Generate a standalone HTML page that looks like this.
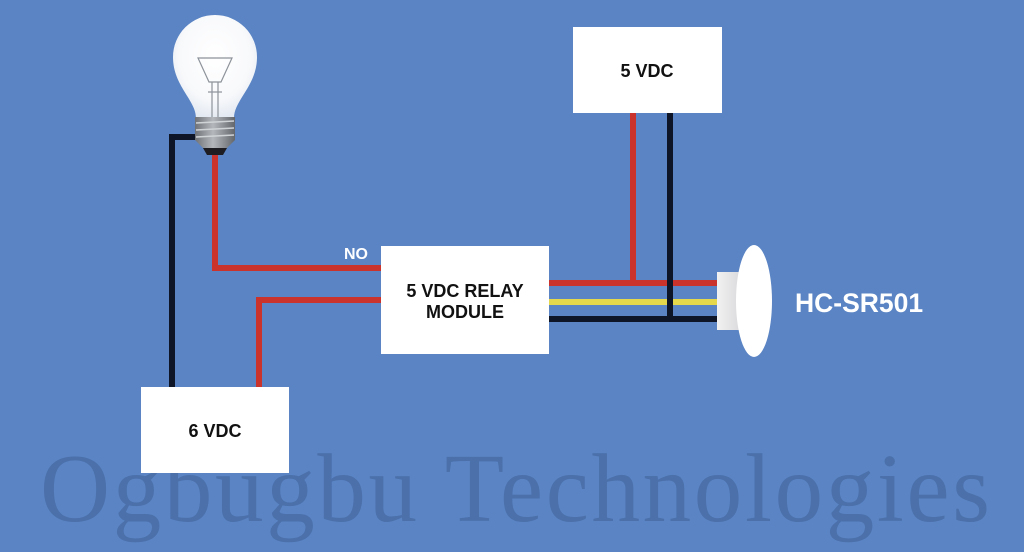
<!DOCTYPE html>
<html>
<head>
<meta charset="utf-8">
<style>
  html, body { margin:0; padding:0; }
  body { width:1024px; height:552px; overflow:hidden; background:#5a84c4; }
  svg { display:block; }
</style>
</head>
<body>
<svg width="1024" height="552" viewBox="0 0 1024 552" xmlns="http://www.w3.org/2000/svg">
  <defs>
    <radialGradient id="glass" cx="0.5" cy="0.4" r="0.6">
      <stop offset="0" stop-color="#ffffff"/>
      <stop offset="0.7" stop-color="#f8f9fb"/>
      <stop offset="1" stop-color="#e4eaf2"/>
    </radialGradient>
    <linearGradient id="screw" x1="0" y1="0" x2="1" y2="0">
      <stop offset="0" stop-color="#6f7378"/>
      <stop offset="0.45" stop-color="#b4b8bc"/>
      <stop offset="1" stop-color="#63676c"/>
    </linearGradient>
    <linearGradient id="sens" x1="0" y1="0" x2="1" y2="0">
      <stop offset="0" stop-color="#f2f2f2"/>
      <stop offset="1" stop-color="#d9d9dc"/>
    </linearGradient>
  </defs>

  <rect x="0" y="0" width="1024" height="552" fill="#5a84c4"/>

  <!-- watermark -->
  <text x="40" y="521" font-family="Liberation Serif, serif" font-size="97" fill="#4b70aa" textLength="950" lengthAdjust="spacing">Ogbugbu Technologies</text>

  <!-- wires -->
  <g fill="none" stroke-width="6" stroke-linejoin="miter">
    <polyline points="199,137 172,137 172,388" stroke="#0e1526"/>
    <polyline points="215,154 215,268 382,268" stroke="#c9332c"/>
    <polyline points="259,388 259,300 382,300" stroke="#c9332c"/>
    <line x1="548" y1="283" x2="718" y2="283" stroke="#c9332c"/>
    <line x1="548" y1="302" x2="718" y2="302" stroke="#e6d84c"/>
    <line x1="548" y1="319" x2="718" y2="319" stroke="#0e1526"/>
    <line x1="633" y1="112" x2="633" y2="283" stroke="#c9332c"/>
    <line x1="670" y1="112" x2="670" y2="322" stroke="#0e1526"/>
  </g>

  <!-- boxes -->
  <rect x="573" y="27" width="149" height="86" fill="#ffffff"/>
  <rect x="381" y="246" width="168" height="108" fill="#ffffff"/>
  <rect x="141" y="387" width="148" height="86" fill="#ffffff"/>

  <g font-family="Liberation Sans, Arial, sans-serif" font-weight="bold" fill="#111111" text-anchor="middle">
    <text x="647" y="77" font-size="18">5 VDC</text>
    <text x="465" y="297" font-size="18">5 VDC RELAY</text>
    <text x="465" y="318" font-size="18">MODULE</text>
    <text x="215" y="437" font-size="18">6 VDC</text>
  </g>
  <text x="344" y="259" font-family="Liberation Sans, Arial, sans-serif" font-weight="bold" font-size="16" fill="#ffffff">NO</text>
  <text x="795" y="312" font-family="Liberation Sans, Arial, sans-serif" font-weight="bold" font-size="26.5" fill="#ffffff">HC-SR501</text>

  <!-- sensor -->
  <rect x="717" y="272" width="24" height="58" fill="url(#sens)"/>
  <ellipse cx="754" cy="301" rx="18" ry="56" fill="#ffffff"/>

  <!-- bulb -->
  <path d="M196 118 C196 100 173 86 173 57 A42 42 0 0 1 257 57 C257 86 234 100 234 118 Z" fill="url(#glass)"/>
  <g stroke="#8d939a" stroke-width="1.2" fill="none">
    <path d="M198 58 L232 58 L221 82 L209 82 Z"/>
    <line x1="212" y1="82" x2="212" y2="117"/>
    <line x1="218" y1="82" x2="218" y2="117"/>
    <path d="M208 92 L222 92"/>
  </g>
  <path d="M195 117 L235 117 L235 140 L227 148 L203 148 L195 140 Z" fill="url(#screw)"/>
  <g stroke="#d0d3d6" stroke-width="1.5">
    <line x1="196" y1="123" x2="234" y2="121"/>
    <line x1="196" y1="130" x2="234" y2="128"/>
    <line x1="196" y1="137" x2="234" y2="135"/>
  </g>
  <path d="M203 148 L227 148 L223 155 L207 155 Z" fill="#1e1e22"/>
</svg>
</body>
</html>
